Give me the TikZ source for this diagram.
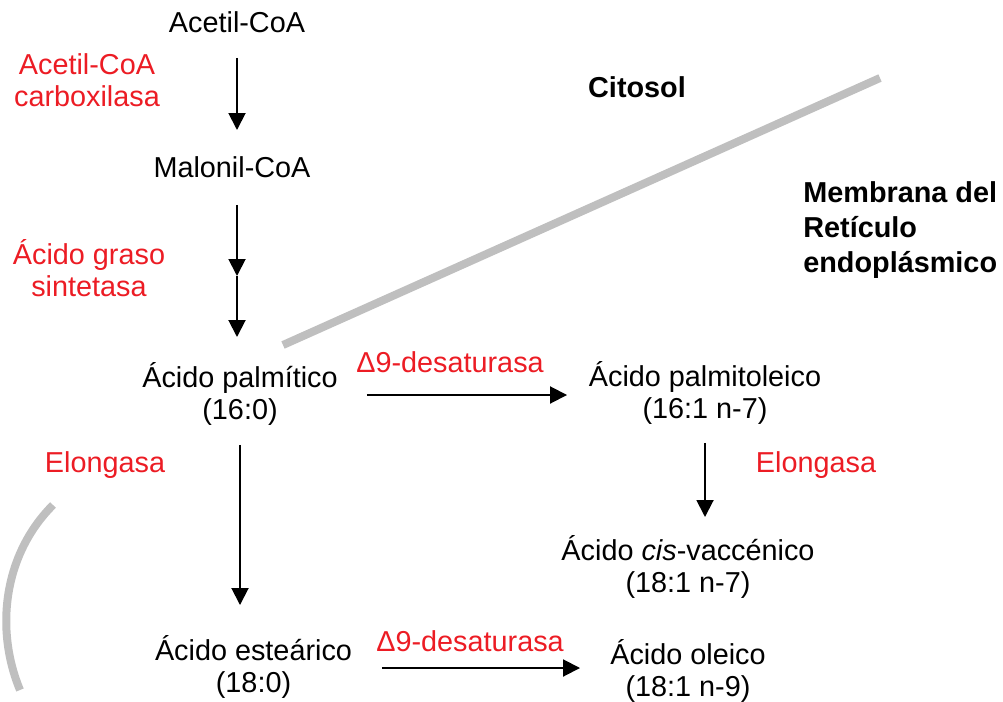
\documentclass[tikz,border=0pt]{standalone}
\usepackage{fontspec}
\setmainfont{Liberation Sans}
\usetikzlibrary{arrows.meta}
\definecolor{enzred}{RGB}{236,28,36}
\definecolor{membgray}{RGB}{191,191,191}

\begin{document}
\begin{tikzpicture}[
  x=0.02cm, y=-0.02cm,
  metab/.style={align=center, inner sep=0pt, font=\fontsize{16.4pt}{18.2pt}\selectfont},
  enzyme/.style={metab, text=enzred},
  region/.style={align=left, inner sep=0pt, font=\fontsize{16.4pt}{19.9pt}\selectfont\bfseries},
  reac/.style={-{Triangle[length=0.34cm, width=0.34cm]}, line width=1.1pt},
  membrane/.style={membgray, line width=0.16cm}
]
  \useasboundingbox (0,0) rectangle (1003,702);

  % membranas
  \draw[membrane] (283,345) -- (880,78);
  \draw[membrane] (53,505) .. controls (3,555) and (-5,630) .. (20,690);

  \node[region] (citosol) at (637,87) {Citosol};
  \node[region, anchor=west] (retic) at (803,230) {Membrana del\\Retículo\\endoplásmico};

  % metabolitos
  \node[metab] (acetil) at (237,22) {Acetil-CoA};
  \node[metab] (malonil) at (232,167.5) {Malonil-CoA};
  \node[metab] (palmitico) at (240,394) {Ácido palmítico\\(16:0)};
  \node[metab] (palmitoleico) at (705,393) {Ácido palmitoleico\\(16:1 n-7)};
  \node[metab] (vaccenico) at (688,567) {Ácido \textit{cis}-vaccénico\\(18:1 n-7)};
  \node[metab] (estearico) at (253.5,667) {Ácido esteárico\\(18:0)};
  \node[metab] (oleico) at (688,671) {Ácido oleico\\(18:1 n-9)};

  % enzimas
  \node[enzyme] (acc) at (87,80.5) {Acetil-CoA\\carboxilasa};
  \node[enzyme] (fas) at (89,268) {Ácido graso\\sintetasa};
  \node[enzyme] (desat1) at (450,362) {Δ9-desaturasa};
  \node[enzyme] (desat2) at (470,641) {Δ9-desaturasa};
  \node[enzyme] (elong1) at (105,465.5) {Elongasa};
  \node[enzyme] (elong2) at (816,465.5) {Elongasa};

  \coordinate (fasmid) at (237,276);

  \draw[reac, shorten <=0.72cm, shorten >=0.75cm] (acetil.center) -- (acetil.center |- malonil.center);
  \draw[reac, shorten <=0.75cm] (malonil.center -| fasmid) -- (fasmid);
  \draw[reac, shorten >=1.14cm] (fasmid) -- (fasmid |- palmitico.center);
  \draw[reac, shorten <=1.02cm, shorten >=1.24cm] (palmitico.center) -- (palmitico.center |- estearico.center);
  \draw[reac, shorten <=2.54cm, shorten >=2.76cm] ([yshift=-0.02cm]palmitico.center) -- ([yshift=-0.02cm]palmitico.center -| palmitoleico.center);
  \draw[reac, shorten <=1.0cm, shorten >=1.0cm] (palmitoleico.center) -- (palmitoleico.center |- vaccenico.center);
  \draw[reac, shorten <=2.57cm, shorten >=2.16cm] ([yshift=-0.02cm]estearico.center) -- ([yshift=-0.02cm]estearico.center -| oleico.center);
\end{tikzpicture}
\end{document}
